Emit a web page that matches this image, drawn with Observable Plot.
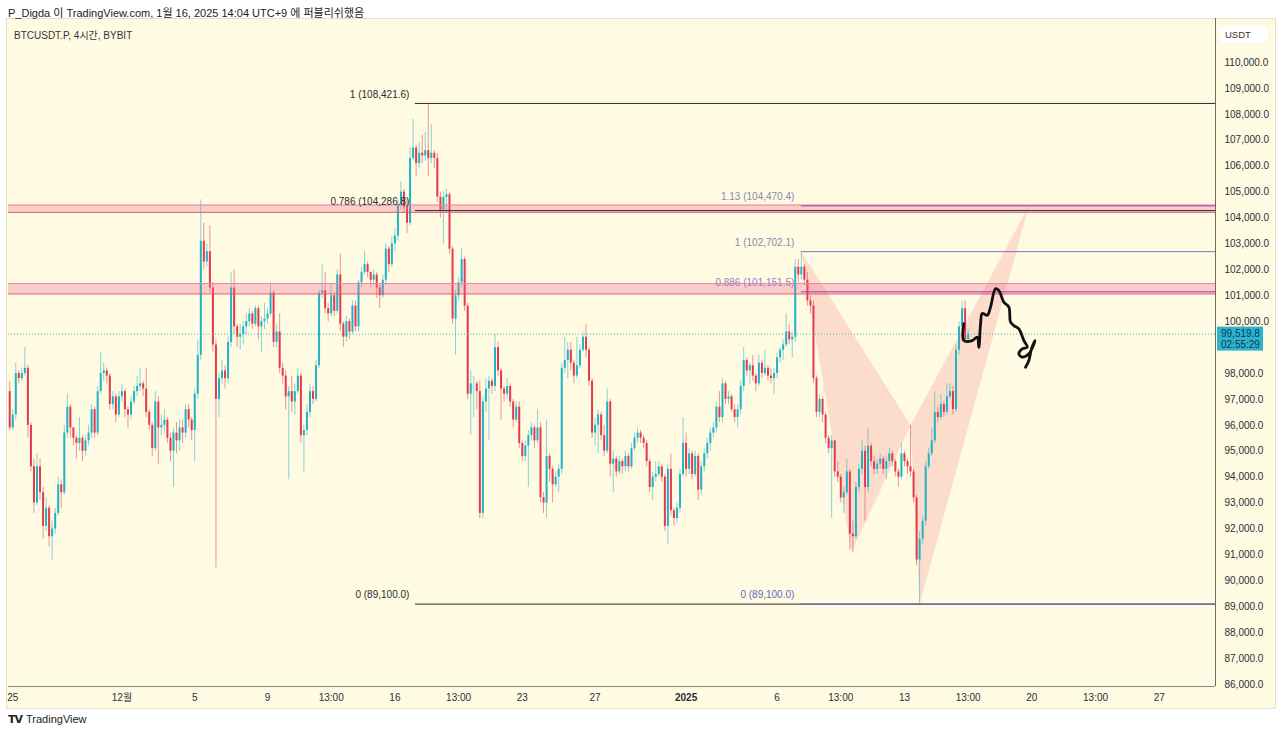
<!DOCTYPE html>
<html><head><meta charset="utf-8">
<script src="https://cdn.jsdelivr.net/npm/d3@7"></script>
<script src="https://cdn.jsdelivr.net/npm/@observablehq/plot@0.6"></script>
<style>
body{margin:0;width:1280px;height:735px;background:#fff;position:relative;overflow:hidden;font-family:"Liberation Sans","Noto Sans CJK KR",sans-serif;color:#222}
#pane{position:absolute;left:6px;top:18px;width:1270px;height:691px;background:#fffbe3;border:1px solid #e4e0cc;box-sizing:border-box}
#chart{position:absolute;left:0;top:18px}
.hdr{position:absolute;left:8px;top:4px;font-size:11px;color:#222;white-space:nowrap}
.sym{position:absolute;left:14px;top:27px;font-size:10px;color:#333;white-space:nowrap}
.unit{position:absolute;left:1219px;top:26px;width:49px;height:17px;background:#fff;border-radius:3px;font-size:9.5px;line-height:17px;color:#333;padding-left:6px;box-sizing:border-box;box-shadow:0 0 1px #ccc}
.foot{position:absolute;left:8px;top:713px;font-size:11px;color:#222;white-space:nowrap}
.foot b{font-size:11px;letter-spacing:-1px;margin-right:4px;font-family:"DejaVu Sans",sans-serif}
</style></head>
<body>
<div id="pane"></div>
<div class="hdr">P_Digda 이 TradingView.com, 1월 16, 2025 14:04 UTC+9 에 퍼블리쉬했음</div>
<div id="chart"></div>
<div class="sym">BTCUSDT.P, 4시간, BYBIT</div>
<div class="unit">USDT</div>
<div class="foot"><b>TV</b>TradingView</div>
<script>
// ---- data (prices in thousands of USDT, times in KST wall clock) ----
const firstCandle = "2024-11-24T21:00Z";
const candleHours = 4;
const firstOpen = 97.3;
const close = [
95.9,96.4,98.0,97.8,98.0,98.2,96.0,94.4,93.0,94.4,93.4,92.1,92.8,91.7,92.0,92.6,93.7,93.4,95.7,96.7,
95.9,95.5,95.3,95.5,95.0,95.4,95.7,96.6,95.7,97.3,98.0,98.1,97.9,96.8,97.1,96.4,97.1,97.3,96.6,96.4,
96.9,97.3,97.5,97.6,97.4,96.5,96.0,95.1,96.9,95.9,96.0,96.2,95.5,95.0,95.7,95.4,95.9,95.7,96.6,96.2,
95.8,97.2,98.7,103.1,102.3,102.7,101.3,99.1,97.0,97.8,98.1,97.8,99.2,101.3,99.8,99.4,99.5,99.8,100.0,100.3,
99.9,100.5,99.8,100.0,100.1,100.3,101.1,99.2,99.6,98.2,97.9,97.1,97.3,96.9,97.3,97.9,95.6,95.8,96.5,97.3,
97.0,98.3,101.1,101.2,100.5,100.3,101.0,100.4,101.8,99.9,99.4,100.0,99.6,100.6,99.8,101.5,101.9,102.2,101.9,101.6,
101.8,101.3,101.0,101.6,102.8,102.2,103.0,103.3,104.5,105.0,104.4,103.8,106.3,106.7,106.1,106.5,106.4,106.6,106.3,106.5,
106.3,104.8,104.3,104.8,104.9,102.8,100.1,101.0,101.5,102.4,100.6,97.2,97.6,97.6,97.3,92.6,96.9,97.4,97.7,97.5,
99.0,98.1,97.4,97.2,97.5,96.9,96.2,96.7,95.3,94.8,95.2,95.6,95.9,95.4,95.9,93.2,93.0,94.8,94.3,93.7,
94.0,94.3,98.2,98.5,98.9,98.4,97.9,98.3,98.9,99.4,98.9,97.7,95.7,96.0,96.4,95.6,95.0,96.9,94.5,94.7,
94.2,94.6,94.4,94.8,94.4,95.1,95.5,95.7,95.5,95.3,94.6,93.6,94.0,94.1,94.4,94.0,92.1,94.3,92.7,92.4,
92.8,94.1,95.3,94.3,94.9,94.1,94.8,93.5,94.4,94.9,95.3,95.7,95.9,96.7,96.3,97.6,97.0,97.1,96.6,96.3,
96.6,97.5,98.5,98.1,98.3,97.9,97.6,98.4,98.0,98.2,97.9,97.8,98.0,98.6,98.9,99.1,99.6,99.3,99.4,102.1,
101.8,102.1,101.6,100.8,100.6,97.8,96.5,97.0,96.4,95.5,95.1,95.4,94.2,94.0,93.2,93.4,94.2,91.8,91.7,93.6,
94.3,95.0,93.6,95.2,94.6,94.3,94.5,94.7,94.3,94.6,94.9,94.6,94.2,94.0,94.9,94.6,94.4,94.2,93.2,90.8,
91.6,92.3,94.4,94.9,95.4,96.5,96.3,96.8,96.5,97.1,97.3,96.6,98.9,99.8,100.5,99.3,99.5198];
const high = [
97.7,96.6,98.4,98.1,98.2,99.0,98.3,96.1,94.7,94.9,94.7,93.6,93.2,92.9,92.3,92.8,94.0,93.9,96.0,97.2,
96.8,95.9,95.6,96.3,95.6,95.6,96.0,96.8,96.7,97.5,98.8,98.4,98.2,98.0,97.3,97.2,97.3,97.6,97.4,96.7,
97.1,97.5,97.9,98.2,97.7,98.2,96.6,96.1,97.3,97.1,96.4,96.6,96.3,95.7,95.9,96.1,96.2,96.2,96.8,96.8,
96.3,97.4,99.3,104.7,103.8,103.0,103.7,101.5,99.3,98.0,98.5,98.3,99.4,101.9,102.0,99.9,99.9,100.0,100.3,100.5,
100.4,100.6,100.6,100.2,100.7,100.5,101.5,101.2,99.9,100.3,98.4,98.1,97.5,97.9,97.6,98.2,98.0,96.0,96.8,97.6,
97.5,98.5,101.2,102.2,101.9,100.7,101.4,101.1,102.0,102.6,100.0,100.2,100.1,100.8,100.8,101.6,102.1,102.7,102.3,101.9,
102.0,101.9,101.4,101.8,103.0,102.9,103.3,103.6,104.7,105.4,105.1,104.7,106.7,107.8,106.8,106.9,107.2,107.3,108.42,107.6,
106.6,106.5,105.0,105.0,105.1,105.0,102.9,101.2,101.7,102.8,102.5,100.7,98.1,97.9,97.7,97.7,97.1,97.8,97.9,97.8,
99.5,99.2,98.2,97.5,97.8,97.6,97.0,96.9,96.9,95.4,95.4,95.8,96.1,96.0,96.6,96.1,93.4,96.2,94.9,94.4,
94.2,94.5,98.4,99.4,99.2,99.2,98.5,99.4,99.1,99.6,99.9,99.0,97.8,96.3,96.6,96.5,96.0,97.4,97.0,95.0,
94.8,94.8,94.7,95.0,94.9,95.3,95.7,95.9,95.8,95.6,95.4,94.7,94.2,94.6,94.6,94.5,94.1,94.5,94.9,92.8,
93.0,94.3,96.3,95.7,95.1,95.0,95.0,94.9,94.6,95.1,95.5,95.9,96.1,96.9,97.3,97.8,97.7,97.3,97.2,96.8,
96.8,97.7,99.0,98.6,98.4,98.7,98.0,98.7,98.5,98.9,98.3,98.2,98.2,98.8,99.0,99.3,100.3,99.9,99.6,102.4,
102.4,102.702,102.2,101.9,101.0,100.8,97.9,97.2,97.1,96.5,95.6,95.6,95.4,94.6,94.1,93.6,94.7,94.3,92.3,93.8,
94.5,95.4,95.2,95.9,95.3,94.8,94.7,94.9,94.8,94.8,95.1,95.0,94.7,94.3,95.3,95.0,94.7,96.0,94.3,93.3,
91.9,92.5,94.6,95.1,95.9,97.3,96.7,97.2,96.9,97.6,97.6,97.5,99.1,100.0,100.8,100.8,99.7];
const low = [
95.8,95.8,96.2,97.6,97.7,97.9,95.5,94.2,92.6,92.9,93.1,91.6,91.9,91.3,90.8,91.8,92.5,92.8,93.3,95.5,
95.5,95.2,94.7,95.0,94.6,94.8,95.2,95.5,95.5,95.6,97.2,97.7,97.6,96.6,96.6,96.1,96.3,96.9,96.3,95.9,
96.2,96.8,97.1,97.3,97.1,96.3,95.8,94.8,95.0,94.5,95.6,95.7,95.3,94.6,93.6,94.9,95.0,95.3,95.5,95.9,
95.4,94.6,97.0,98.5,102.0,102.1,101.1,98.8,90.5,96.3,97.6,97.4,97.6,99.0,99.5,99.0,98.9,99.1,99.5,99.8,
99.7,99.8,99.3,98.8,99.7,99.9,100.2,99.0,99.0,98.0,97.6,96.6,93.9,96.5,96.4,97.2,95.3,94.2,95.6,96.3,
96.8,96.9,98.2,100.9,100.3,100.0,100.2,100.2,100.3,99.6,99.0,99.2,99.3,99.5,99.6,99.6,101.3,101.8,101.7,101.3,
101.4,100.9,100.5,100.9,101.4,101.9,102.1,102.7,103.1,104.3,104.2,103.4,103.7,106.2,105.6,105.9,106.1,106.2,105.6,106.1,
105.9,104.6,104.0,103.0,104.2,102.6,99.9,98.7,100.8,101.3,100.4,97.0,95.6,96.3,96.6,92.4,92.4,96.5,95.4,97.2,
97.3,97.9,96.2,96.9,97.0,96.7,95.9,96.1,95.1,94.6,94.6,93.6,95.4,95.1,95.3,93.0,92.6,92.4,93.8,93.0,
93.6,93.4,94.1,98.0,97.8,98.1,97.6,97.8,98.2,98.8,98.6,97.5,95.5,95.2,94.9,95.4,94.8,94.9,94.0,93.4,
94.0,94.1,94.1,94.2,94.2,94.3,95.0,95.3,95.3,95.1,94.4,93.4,93.1,93.8,94.0,93.8,91.9,91.4,92.5,92.1,
92.2,92.6,94.0,94.0,94.1,93.9,94.0,93.1,93.3,94.2,94.7,95.0,95.5,95.7,96.1,96.1,96.8,96.8,96.5,96.1,
95.9,96.4,97.3,97.9,97.6,97.7,97.3,97.5,97.8,97.9,97.7,97.6,97.2,97.8,98.4,98.5,99.0,99.1,98.6,99.2,
101.5,101.6,101.4,100.6,100.3,97.6,96.3,96.3,96.1,95.3,94.9,92.4,94.0,93.8,93.0,92.6,93.3,91.2,91.1,91.6,
93.4,94.1,92.3,93.4,94.4,94.1,94.1,94.3,94.1,93.9,94.4,94.4,94.0,93.6,93.9,94.4,94.1,94.0,93.0,90.6,
89.1,91.4,92.1,94.3,94.8,95.3,96.1,96.2,96.3,96.4,97.0,96.4,96.5,98.7,99.7,99.2,99.2];

// 99,000.0 is hidden behind the last-price label in the reference
const priceTicks = [86,87,88,89,90,91,92,93,94,95,96,97,98,100,101,102,103,104,105,106,107,108,109,110];
const xTickDates = ["2024-11-25T01:00Z","2024-12-01T01:00Z","2024-12-05T01:00Z","2024-12-09T01:00Z","2024-12-12T13:00Z","2024-12-16T01:00Z","2024-12-19T13:00Z","2024-12-23T01:00Z","2024-12-27T01:00Z","2025-01-01T01:00Z","2025-01-06T01:00Z","2025-01-09T13:00Z","2025-01-13T01:00Z","2025-01-16T13:00Z","2025-01-20T01:00Z","2025-01-23T13:00Z","2025-01-27T01:00Z"];
const xTickLabels = ["25","12월","5","9","13:00","16","13:00","23","27","2025","6","13:00","13","13:00","20","13:00","27"];
const xDomain = ["2024-11-24T19:25Z","2025-01-30T03:12Z"];
const yDomain = [85.92, 111.70];

const bandLow = [104.22, 101.07];
const bandHigh = [104.50, 101.47];

const fibAStart = "2024-12-17T04:00Z";
const fibALevels = ["1","0.786","0"];
const fibAPrices = [108.4216,104.2868,89.1];
const fibBStart = "2025-01-07T09:00Z";
const fibBLevels = ["1.13","1","0.886","0"];
const fibBPrices = [104.4704,102.7021,101.1515,89.1];
const fibBLine = ["#9b3fa6","#8070b8","#9b3fa6","#5c6bc0"];
const fibBText = ["#8a86b0","#8a86b0","#a27cc4","#5c6bc0"];

const patternDates = ["2025-01-07T09:00Z","2025-01-10T03:00Z","2025-01-13T09:00Z","2025-01-13T21:00Z","2025-01-19T21:00Z"];
const patternPrices = [102.702,91.1,96.0,89.1,104.47];
const patternTriangles = [[0,1,2],[2,3,4]];

const sketchFrom = "2025-01-16T13:00Z";
const sketchHours = [-5.7,-5.7,5.4,12.0,14.1,16.4,18.6,25.2,29.5,36.1,40.5,47.1,53.7,55.9,60.3,66.9,73.5,78.0,71.3,66.9,71.3,80.1,86.7,88.0,83.6,80.1,75.7];
const sketchPrices = [99.92,99.27,99.27,99.40,99.01,99.93,100.32,100.25,100.56,101.27,101.20,100.75,100.56,99.98,99.85,99.72,99.27,99.01,98.95,98.76,98.63,98.76,99.14,99.27,98.96,98.50,98.24];

const countdown = "02:55:29";

// ---- build ----
const up = "#22b2c6", dn = "#e53a4c";
const t0 = new Date(firstCandle).getTime();
const candles = close.map((c, i) => ({
  t: new Date(t0 + i * candleHours * 3600e3),
  o: i ? close[i - 1] : firstOpen, c, h: high[i], l: low[i]
}));
const ups = candles.filter(d => d.c >= d.o), dns = candles.filter(d => d.c < d.o);
const last = close[close.length - 1];
const x0 = new Date(xDomain[0]), x1 = new Date(xDomain[1]);
const fmt = d3.format(",.1f");
const priceLabel = p => fmt(p * 1000);
const tickMap = new Map(xTickDates.map((d, i) => [+new Date(d), xTickLabels[i]]));

const bands = bandLow.map((lo, i) => ({lo, hi: bandHigh[i]}));
const fibA = fibAPrices.map((p, i) => ({p, lvl: fibALevels[i]}));
const fibB = fibBPrices.map((p, i) => ({p, lvl: fibBLevels[i], lc: fibBLine[i], tc: fibBText[i]}));
const tri = patternTriangles.flatMap((ids, k) => ids.map(j => ({k, t: new Date(patternDates[j]), p: patternPrices[j]})));
const s0 = new Date(sketchFrom).getTime();
const sketch = sketchHours.map((h, i) => ({t: new Date(s0 + h * 3600e3), p: sketchPrices[i]}));

const chart = Plot.plot({
  width: 1280, height: 690,
  marginLeft: 8, marginRight: 65, marginTop: 0, marginBottom: 22,
  style: {fontFamily: '"Liberation Sans","Noto Sans CJK KR",sans-serif', fontSize: "10px", color: "#2a2e39", background: "transparent", overflow: "visible"},
  x: {type: "utc", domain: [x0, x1], ticks: xTickDates.map(d => new Date(d)), tickFormat: d => tickMap.get(+d), tickSize: 0, tickPadding: 7, label: null},
  y: {domain: yDomain, ticks: priceTicks, tickFormat: priceLabel, tickSize: 0, tickPadding: 9, label: null, axis: "right"},
  marks: [
    Plot.line(tri, {x: "t", y: "p", z: "k", fill: "#fcdccb", stroke: "none", curve: "linear-closed"}),
    Plot.ruleX(ups, {x: "t", y1: "l", y2: "h", stroke: up, strokeOpacity: 0.55, strokeWidth: 1}),
    Plot.ruleX(dns, {x: "t", y1: "l", y2: "h", stroke: dn, strokeOpacity: 0.55, strokeWidth: 1}),
    Plot.ruleX(ups, {x: "t", y1: "o", y2: "c", stroke: up, strokeWidth: 2}),
    Plot.ruleX(dns, {x: "t", y1: "o", y2: "c", stroke: dn, strokeWidth: 2}),
    Plot.rect(bands, {x1: () => x0, x2: () => x1, y1: "lo", y2: "hi", fill: "#f06292", fillOpacity: 0.3}),
    Plot.ruleY(bands, {y: "hi", stroke: "#e8899a", strokeWidth: 1}),
    Plot.ruleY(bands, {y: "lo", stroke: "#d9576c", strokeWidth: 1}),
    Plot.ruleY(fibA, {y: "p", x1: () => new Date(fibAStart), x2: () => x1, stroke: "#2b2b2b", strokeWidth: 1}),
    Plot.ruleY(fibB, {y: "p", x1: () => new Date(fibBStart), x2: () => x1, stroke: d => d.lc, strokeWidth: 1}),
    Plot.ruleY([last], {stroke: "#3fb6c8", strokeWidth: 1, strokeDasharray: "1,2"}),
    Plot.text(fibA, {x: () => new Date(fibAStart), y: "p", text: d => `${d.lvl} (${priceLabel(d.p)})`, textAnchor: "end", dx: -6, dy: -9, fill: "#2b2b2b", fontSize: 10}),
    Plot.text(fibB, {x: () => new Date(fibBStart), y: "p", text: d => `${d.lvl} (${priceLabel(d.p)})`, textAnchor: "end", dx: -7, dy: -9, fill: d => d.tc, fontSize: 10}),
    Plot.line(sketch, {x: "t", y: "p", stroke: "#111", strokeWidth: 2.8, curve: "catmull-rom"}),
    Plot.ruleX([x1], {stroke: "#6b6b6b", strokeWidth: 1}),
    Plot.ruleY([yDomain[0]], {stroke: "#8a8a80", strokeWidth: 1})
  ]
});

const svg = d3.select(chart);
svg.selectAll("text").filter(function () { return this.textContent === "2025"; }).attr("font-weight", "bold");
const yPx = chart.scale("y").apply(last);
const g = svg.append("g").attr("text-anchor", "start");
g.append("rect").attr("x", 1217).attr("y", yPx - 7).attr("width", 46).attr("height", 24).attr("fill", "#2bb4cc");
g.append("text").attr("x", 1221).attr("y", yPx + 3.5).attr("text-anchor", "start").attr("font-size", 10).attr("fill", "#0e3566").text(priceLabel(last));
g.append("text").attr("x", 1221).attr("y", yPx + 14).attr("text-anchor", "start").attr("font-size", 10).attr("fill", "#0e3566").text(countdown);
document.getElementById("chart").appendChild(chart);
</script>
</body></html>
